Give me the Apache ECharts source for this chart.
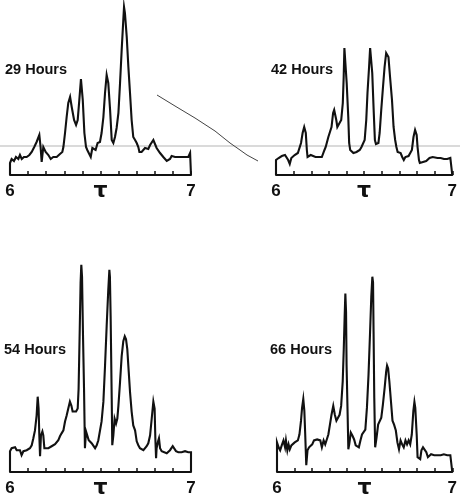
<!DOCTYPE html>
<html>
<head>
<meta charset="utf-8">
<script src="https://cdn.jsdelivr.net/npm/echarts@6/dist/echarts.min.js"></script>
<style>
html,body{margin:0;padding:0;background:#ffffff;}
#chart{width:460px;height:499px;}
</style>
</head>
<body>
<div id="chart"></div>
<script>
// Panel titles
const panelTitles = ['29 Hours', '42 Hours', '54 Hours', '66 Hours'];
// Axis tick labels (tau scale)
const tickValues = [6, 6.5, 7];
const tickTexts = ['6', 'τ', '7'];

// 29 Hours
const tau29 = [6.000,6.000,6.009,6.022,6.033,6.046,6.055,6.065,6.077,6.092,6.107,6.120,6.134,6.147,6.162,6.169,6.175,6.184,6.190,6.197,6.212,6.225,6.239,6.258,6.276,6.289,6.295,6.304,6.313,6.322,6.332,6.341,6.354,6.365,6.374,6.383,6.392,6.402,6.411,6.420,6.427,6.438,6.446,6.455,6.464,6.473,6.484,6.497,6.506,6.516,6.525,6.534,6.543,6.553,6.562,6.571,6.580,6.589,6.599,6.608,6.617,6.626,6.630,6.635,6.645,6.654,6.663,6.672,6.681,6.691,6.700,6.709,6.715,6.718,6.727,6.737,6.746,6.755,6.764,6.774,6.783,6.792,6.801,6.810,6.820,6.829,6.838,6.847,6.856,6.866,6.875,6.884,6.893,6.902,6.912,6.930,6.948,6.967,6.985,6.995,7.000,7.000];
const int29 = [0,12,16,14,18,16,20,16,18,18,20,23,28,33,40,28,13,28,29,23,20,16,18,18,21,23,28,42,58,72,78,68,55,50,55,75,96,75,42,28,25,27,18,27,28,25,32,33,42,58,82,100,92,65,35,32,38,47,62,92,125,155,168,162,138,108,82,55,38,35,32,28,23,21,23,23,27,28,26,30,32,35,31,27,25,22,20,18,16,14,15,16,19,17,18,18,18,18,18,22,22,0];

// 42 Hours
const tau42 = [6.000,6.000,6.015,6.024,6.033,6.042,6.051,6.060,6.069,6.078,6.087,6.097,6.106,6.115,6.124,6.133,6.142,6.151,6.160,6.169,6.175,6.179,6.188,6.197,6.206,6.224,6.242,6.260,6.270,6.275,6.282,6.290,6.297,6.306,6.315,6.324,6.330,6.337,6.342,6.348,6.357,6.370,6.379,6.384,6.388,6.393,6.401,6.410,6.415,6.421,6.428,6.439,6.448,6.457,6.466,6.475,6.485,6.494,6.503,6.512,6.519,6.528,6.534,6.541,6.546,6.554,6.561,6.567,6.570,6.576,6.581,6.588,6.597,6.607,6.616,6.625,6.630,6.638,6.647,6.658,6.667,6.676,6.683,6.690,6.698,6.707,6.716,6.725,6.734,6.743,6.752,6.761,6.771,6.780,6.789,6.798,6.803,6.811,6.816,6.825,6.834,6.843,6.852,6.862,6.871,6.880,6.889,6.898,6.916,6.934,6.953,6.971,6.989,7.000,7.000];
const int42 = [0,15,17,18,19,18,20,18,15,11,17,18,20,19,22,23,32,42,48,42,25,18,20,20,18,18,18,18,20,25,28,28,38,43,48,62,65,63,55,48,48,55,72,98,127,127,92,58,32,25,24,22,20,23,25,25,28,28,35,55,82,108,127,127,102,65,35,31,30,33,32,42,65,88,108,122,123,118,98,75,48,35,28,23,21,22,18,15,18,16,19,18,25,38,45,40,28,15,12,12,13,13,14,15,17,19,18,16,17,17,16,16,17,17,0];

// 54 Hours
const tau54 = [6.000,6.000,6.009,6.018,6.028,6.037,6.046,6.055,6.064,6.074,6.083,6.092,6.101,6.110,6.120,6.129,6.138,6.147,6.153,6.158,6.162,6.166,6.171,6.179,6.184,6.190,6.199,6.212,6.221,6.230,6.239,6.249,6.258,6.267,6.276,6.285,6.295,6.304,6.313,6.322,6.331,6.339,6.346,6.354,6.365,6.374,6.379,6.385,6.390,6.394,6.398,6.403,6.409,6.414,6.420,6.427,6.435,6.442,6.451,6.460,6.470,6.479,6.488,6.497,6.506,6.516,6.525,6.534,6.543,6.549,6.552,6.556,6.562,6.565,6.571,6.578,6.586,6.593,6.599,6.608,6.617,6.626,6.634,6.641,6.648,6.656,6.663,6.672,6.681,6.691,6.700,6.709,6.718,6.727,6.737,6.746,6.755,6.764,6.774,6.783,6.792,6.796,6.799,6.803,6.807,6.810,6.818,6.823,6.829,6.838,6.847,6.866,6.884,6.899,6.908,6.917,6.930,6.948,6.967,6.985,7.000,7.000];
const int54 = [0,21,24,22,25,22,20,22,17,21,19,22,22,24,27,34,42,57,76,64,37,16,37,41,37,24,22,24,25,26,27,28,30,32,36,39,42,51,57,64,71,67,61,62,61,64,84,141,191,209,197,141,84,24,41,39,32,31,29,27,24,27,32,34,51,71,107,147,184,204,197,157,74,27,37,54,49,54,67,91,117,132,137,134,124,101,81,61,47,42,31,27,24,23,22,24,26,29,37,54,71,73,64,34,14,24,31,34,24,21,21,19,22,26,26,21,20,20,21,20,20,0];

// 66 Hours
const tau66 = [6.000,6.000,6.009,6.018,6.027,6.037,6.046,6.051,6.059,6.066,6.073,6.082,6.092,6.101,6.110,6.119,6.128,6.137,6.143,6.150,6.156,6.161,6.167,6.174,6.183,6.192,6.201,6.211,6.220,6.229,6.238,6.247,6.256,6.266,6.275,6.284,6.293,6.302,6.311,6.321,6.330,6.339,6.348,6.357,6.366,6.375,6.381,6.386,6.390,6.394,6.397,6.403,6.407,6.412,6.421,6.430,6.440,6.449,6.458,6.467,6.476,6.485,6.495,6.504,6.513,6.522,6.531,6.538,6.544,6.548,6.551,6.555,6.560,6.568,6.577,6.586,6.595,6.604,6.614,6.623,6.628,6.634,6.641,6.650,6.659,6.668,6.678,6.687,6.696,6.705,6.714,6.723,6.733,6.742,6.751,6.760,6.769,6.778,6.784,6.789,6.797,6.802,6.810,6.817,6.824,6.833,6.842,6.852,6.861,6.870,6.879,6.897,6.916,6.934,6.952,6.971,6.989,7.000,7.000];
const int66 = [0,30,25,22,27,32,25,32,22,28,23,27,25,30,29,32,38,52,65,74,62,38,7,22,25,27,28,32,30,33,33,32,25,32,28,33,38,48,58,67,58,52,55,58,67,92,125,158,181,162,108,58,23,28,40,37,33,27,28,25,32,38,40,43,65,98,142,178,198,192,142,75,25,35,48,50,55,68,85,102,108,105,92,72,52,48,42,30,23,32,28,25,32,28,32,28,38,62,71,65,38,15,13,13,22,25,23,20,15,17,18,17,17,17,18,17,17,18,0];

const taus = [tau29, tau42, tau54, tau66];
const ints = [int29, int42, int54, int66];

const chart = echarts.init(document.getElementById('chart'), null, {renderer: 'canvas'});
const ink = '#111111';
const font = 'Liberation Sans, Arial, sans-serif';
const grids = [
  {left: 10, top: 0, width: 181, height: 175},
  {left: 276, top: 0, width: 183, height: 175},
  {left: 10, top: 254, width: 181, height: 220},
  {left: 277, top: 255, width: 182, height: 220}
];
const yMax = [175, 175, 220, 220];
const titlePos = [
  {left: 5, top: 62},
  {left: 271, top: 62},
  {left: 4, top: 342},
  {left: 270, top: 342}
];
function tickLabel(v) {
  for (let i = 0; i < tickValues.length; i++) {
    if (Math.abs(v - tickValues[i]) < 1e-6) {
      return Math.abs(v - 6.5) < 1e-6 ? '{t|' + tickTexts[i] + '}' : '{d|' + tickTexts[i] + '}';
    }
  }
  return '';
}
const option = {
  backgroundColor: '#ffffff',
  animation: false,
  title: panelTitles.map((t, i) => ({
    text: t, left: titlePos[i].left, top: titlePos[i].top, padding: 0,
    textStyle: {fontFamily: font, fontWeight: 'bold', fontSize: 14.5, color: ink}
  })),
  grid: grids,
  xAxis: grids.map((g, i) => ({
    gridIndex: i, type: 'value', min: 6, max: 7, interval: 0.1,
    axisLine: {show: true, onZero: false, lineStyle: {color: ink, width: 2}},
    axisTick: {show: true, inside: true, length: 4, lineStyle: {color: ink, width: 1.5}},
    splitLine: {show: false},
    axisLabel: {
      show: true, margin: 7, formatter: tickLabel, showMinLabel: true, showMaxLabel: true,
      rich: {
        d: {fontFamily: font, fontWeight: 'bold', fontSize: 17, color: ink, height: 18, verticalAlign: 'bottom'},
        t: {fontFamily: 'DejaVu Sans, sans-serif', fontWeight: 'bold', fontSize: 22, color: ink, height: 18, verticalAlign: 'bottom', padding: [0, 0, 0, 0]}
      }
    }
  })),
  yAxis: grids.map((g, i) => ({
    gridIndex: i, type: 'value', min: 0, max: yMax[i], show: false
  })),
  series: taus.map((t, i) => ({
    type: 'line', xAxisIndex: i, yAxisIndex: i,
    data: t.map((x, k) => [x, ints[i][k]]),
    showSymbol: false, symbol: 'none', clip: false, smooth: false,
    lineStyle: {color: ink, width: 2.1, join: 'miter'}
  })),
  graphic: [
    {type: 'line', silent: true, z: -1, shape: {x1: 0, y1: 146, x2: 460, y2: 146}, style: {stroke: '#b5b5b5', lineWidth: 1}},
    {type: 'polyline', silent: true, z: -1, shape: {points: [[157,95],[175,106],[195,118],[215,131],[230,143],[240,150],[247,155],[258,161]]}, style: {stroke: '#444', lineWidth: 1, fill: null}}
  ]
};
chart.setOption(option);
</script>
</body>
</html>
